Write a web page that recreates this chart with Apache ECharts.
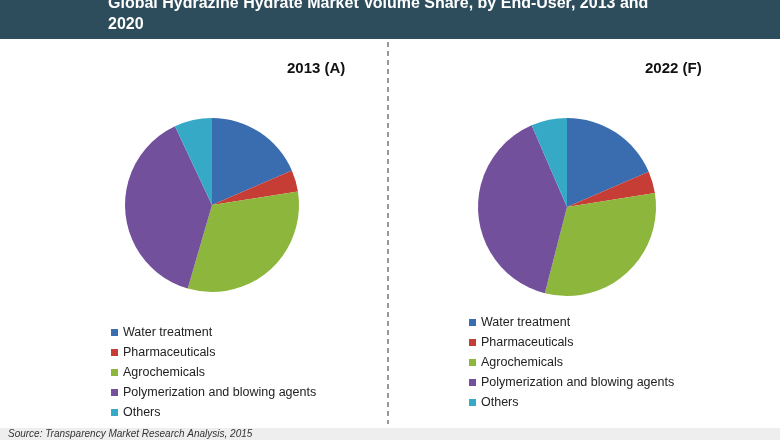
<!DOCTYPE html>
<html><head><meta charset="utf-8">
<script src="https://cdn.jsdelivr.net/npm/echarts@6/dist/echarts.min.js"></script>
<style>html,body{margin:0;padding:0;background:#fff}#c{width:780px;height:440px}</style>
</head><body><div id="c"></div>
<script>
var categories = ['Water treatment', 'Pharmaceuticals', 'Agrochemicals', 'Polymerization and blowing agents', 'Others'];
var share2013 = [18.5, 4, 32, 38.5, 7];
var share2022 = [18.5, 4, 31.5, 39.5, 6.5];
var colors = ['#3a6cb0', '#c63d36', '#8db63c', '#73509b', '#35a9c6'];

var myChart = echarts.init(document.getElementById('c'));
function toData(vals) {
    return categories.map(function (n, i) { return {name: n, value: vals[i]}; });
}
function legend(left, top) {
    return {
        left: left, top: top, orient: 'vertical', itemGap: 7,
        icon: 'rect', itemWidth: 7, itemHeight: 7, selectedMode: false,
        textStyle: {fontFamily: 'Liberation Sans', fontSize: 12.5, color: '#222'},
        data: categories
    };
}
var pieBase = {
    type: 'pie', startAngle: 90, clockwise: true,
    label: {show: false}, labelLine: {show: false}, silent: true,
    itemStyle: {borderColor: '#fff', borderWidth: 0}
};
var option = {
    color: colors,
    animation: false,
    legend: [legend(106, 321), legend(464, 311)],
    graphic: [
        {type: 'rect', shape: {x: 0, y: 0, width: 780, height: 39}, style: {fill: '#2d4d5c'}},
        {type: 'text', left: 108, top: -7, style: {text: 'Global Hydrazine Hydrate Market Volume Share, by End-User, 2013 and\n2020', fill: '#fff', font: 'bold 16px Liberation Sans', lineHeight: 21}},
        {type: 'line', shape: {x1: 388, y1: 42, x2: 388, y2: 424}, style: {stroke: '#333', lineDash: [5, 4], lineWidth: 1}},
        {type: 'text', left: 287, top: 61, style: {text: '2013 (A)', fill: '#111', font: 'bold 15px Liberation Sans'}},
        {type: 'text', left: 645, top: 61, style: {text: '2022 (F)', fill: '#111', font: 'bold 15px Liberation Sans'}},
        {type: 'rect', shape: {x: 0, y: 428, width: 780, height: 12}, style: {fill: '#eeeeee'}},
        {type: 'text', left: 8, top: 429, style: {text: 'Source: Transparency Market Research Analysis, 2015', fill: '#333', font: 'italic 10px Liberation Sans'}}
    ],
    series: [
        Object.assign({}, pieBase, {name: '2013', center: [212, 205], radius: 87, data: toData(share2013)}),
        Object.assign({}, pieBase, {name: '2022', center: [567, 207], radius: 89, data: toData(share2022)})
    ]
};
myChart.setOption(option);
</script>
</body></html>
